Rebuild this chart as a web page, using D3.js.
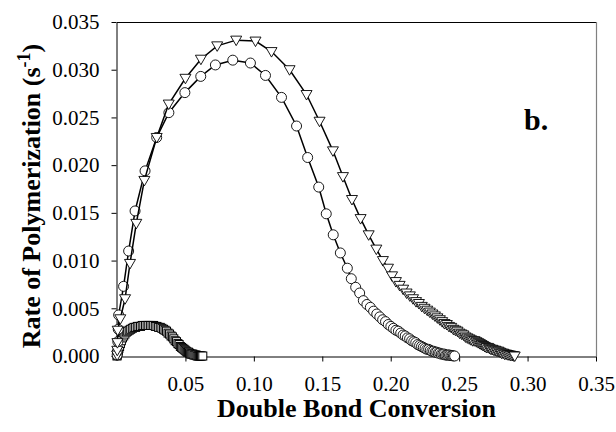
<!DOCTYPE html>
<html>
<head>
<meta charset="utf-8">
<script src="https://cdn.jsdelivr.net/npm/d3@7"></script>
</head>
<body style="margin:0">
<svg id="fig" width="616" height="432" font-family="'Liberation Serif', 'Tinos', 'FreeSerif', serif"></svg>
<script>
// circles series (x = conversion, y = rate)
const circleX = [0.0001, 0.0003, 0.0006, 0.0009, 0.0012, 0.0048, 0.0085, 0.0132, 0.0205, 0.0290,
  0.0379, 0.0496, 0.0612, 0.0719, 0.0846, 0.0975, 0.1085, 0.1202, 0.1312, 0.1393,
  0.1474, 0.1529, 0.1580, 0.1632, 0.1683, 0.1712, 0.1744, 0.1773,
  0.1800, 0.1826, 0.1851, 0.1875, 0.1898, 0.1920, 0.1941, 0.1962, 0.1982, 0.2001,
  0.2020, 0.2038, 0.2056, 0.2073, 0.2090, 0.2106, 0.2122, 0.2138, 0.2153, 0.2168,
  0.2183, 0.2197, 0.2211, 0.2225, 0.2238, 0.2251, 0.2264, 0.2277, 0.2289, 0.2301,
  0.2313, 0.2325, 0.2336, 0.2347, 0.2358, 0.2369, 0.2380, 0.2390, 0.2400, 0.2410,
  0.2420, 0.2430, 0.2440, 0.2449, 0.2458, 0.2467];
const circleY = [0.0001, 0.0005, 0.0015, 0.0028, 0.0043, 0.0073, 0.0110, 0.0152, 0.0194, 0.0229,
  0.0255, 0.0276, 0.0293, 0.0305, 0.0310, 0.0307, 0.0294, 0.0271, 0.0241, 0.0208,
  0.0177, 0.0149, 0.0127, 0.0108, 0.0092, 0.0081, 0.0072, 0.0066,
  0.0058, 0.0054, 0.0051, 0.0047, 0.0044, 0.0041, 0.0038, 0.0036, 0.0033, 0.0031,
  0.0029, 0.0027, 0.0026, 0.0024, 0.0022, 0.0021, 0.0019, 0.0018, 0.0016, 0.0015,
  0.0014, 0.0012, 0.0011, 0.0010, 0.0009, 0.0008, 0.0007, 0.0007, 0.0006, 0.0005,
  0.0005, 0.0004, 0.0004, 0.0003, 0.0003, 0.0002, 0.0002, 0.0002, 0.0001, 0.0001,
  0.0001, 0.0001, 0.00005, 0.00003, 0.00001, 0.0];

// triangles series
const triX = [0.0001, 0.0002, 0.0003, 0.0005, 0.0024, 0.0059, 0.0095, 0.0141, 0.0200, 0.0290,
  0.0378, 0.0500, 0.0613, 0.0732, 0.0871, 0.1012, 0.1129, 0.1261, 0.1385, 0.1480,
  0.1578, 0.1651, 0.1717, 0.1780, 0.1839, 0.1895, 0.1943, 0.1980,
  0.2010, 0.2038, 0.2065, 0.2091, 0.2116, 0.2140, 0.2163, 0.2185, 0.2206, 0.2227,
  0.2247, 0.2267, 0.2286, 0.2305, 0.2323, 0.2341, 0.2359, 0.2376, 0.2393, 0.2410,
  0.2426, 0.2442, 0.2458, 0.2473, 0.2488, 0.2503, 0.2518, 0.2532, 0.2546, 0.2560,
  0.2574, 0.2587, 0.2600, 0.2613, 0.2626, 0.2639, 0.2651, 0.2663, 0.2675, 0.2687,
  0.2699, 0.2711, 0.2722, 0.2733, 0.2744, 0.2755, 0.2766, 0.2777, 0.2788, 0.2799,
  0.2810, 0.2821, 0.2832, 0.2843, 0.2854, 0.2865, 0.2876, 0.2887, 0.2898, 0.2906];
const triY = [0.0001, 0.0006, 0.0014, 0.0027, 0.0039, 0.0060, 0.0097, 0.0139, 0.0184, 0.0229,
  0.0264, 0.0291, 0.0311, 0.0325, 0.0331, 0.0330, 0.0319, 0.0300, 0.0274, 0.0246,
  0.0215, 0.0188, 0.0164, 0.0144, 0.0127, 0.0112, 0.0100, 0.0092,
  0.0084, 0.0078, 0.0074, 0.0070, 0.0066, 0.0063, 0.0060, 0.0057, 0.0055, 0.0052,
  0.0050, 0.0048, 0.0046, 0.0044, 0.0042, 0.0040, 0.0038, 0.0036, 0.0034, 0.0033,
  0.0031, 0.0030, 0.0028, 0.0027, 0.0026, 0.0024, 0.0023, 0.0022, 0.0020, 0.0019,
  0.0018, 0.0017, 0.0016, 0.0016, 0.0015, 0.0014, 0.0013, 0.0012, 0.0011, 0.0010,
  0.0009, 0.0009, 0.0008, 0.0007, 0.0007, 0.0006, 0.0006, 0.0005, 0.0005, 0.0004,
  0.0003, 0.0003, 0.0002, 0.0002, 0.00014, 0.00011, 0.00008, 0.00005, 0.00002, 0.0];

// squares series
const sqX = [0.0000, 0.0002, 0.0004, 0.0007, 0.0010, 0.0014, 0.0019, 0.0025, 0.0032, 0.0040,
  0.0049, 0.0058, 0.0068, 0.0078, 0.0089, 0.0100, 0.0112, 0.0124, 0.0136, 0.0148,
  0.0160, 0.0172, 0.0184, 0.0196, 0.0208, 0.0220, 0.0232, 0.0244, 0.0256, 0.0268,
  0.0280, 0.0292, 0.0304, 0.0316, 0.0328, 0.0340, 0.0351, 0.0362, 0.0373, 0.0384,
  0.0395, 0.0405, 0.0415, 0.0425, 0.0435, 0.0445, 0.0454, 0.0463, 0.0472, 0.0481,
  0.0490, 0.0498, 0.0506, 0.0514, 0.0522, 0.0530, 0.0538, 0.0546, 0.0554, 0.0562,
  0.0570, 0.0578, 0.0586, 0.0594, 0.0602, 0.0610, 0.0618, 0.0627];
const sqY = [0.0, 0.0001, 0.0003, 0.0004, 0.0006, 0.0008, 0.0010, 0.0013, 0.0016, 0.0019,
  0.0021, 0.0023, 0.0025, 0.0026, 0.0027, 0.0028, 0.0029, 0.0030, 0.0030, 0.0031,
  0.0031, 0.0031, 0.0032, 0.0032, 0.0032, 0.0032, 0.0032, 0.0032, 0.0032, 0.0032,
  0.0031, 0.0031, 0.0030, 0.0030, 0.0029, 0.0028, 0.0027, 0.0026, 0.0024, 0.0023,
  0.0021, 0.0020, 0.0018, 0.0016, 0.0015, 0.0013, 0.0012, 0.0010, 0.0009, 0.0008,
  0.0007, 0.0006, 0.0005, 0.0004, 0.0004, 0.0003, 0.0002, 0.0002, 0.0002, 0.0001,
  0.0001, 0.0001, 0.0, 0.0, 0.0, 0.0, 0.0, 0.0];

const xTicks = [0.05, 0.10, 0.15, 0.20, 0.25, 0.30, 0.35];
const yTicks = [0.000, 0.005, 0.010, 0.015, 0.020, 0.025, 0.030, 0.035];

const plot = { left: 117, right: 596, top: 22, bottom: 356 };
const serif = "'Liberation Serif', 'Tinos', 'FreeSerif', serif";

const svg = d3.select("#fig");

const x = d3.scaleLinear().domain([0, 0.35]).range([plot.left, plot.right]);
const y = d3.scaleLinear().domain([0, 0.035]).range([plot.bottom, plot.top]);

// frame: top black, right grey
svg.append("line")
  .attr("x1", plot.left).attr("x2", plot.right)
  .attr("y1", plot.top + 0.5).attr("y2", plot.top + 0.5)
  .attr("stroke", "#000").attr("stroke-width", 1);
svg.append("line")
  .attr("x1", plot.right + 0.5).attr("x2", plot.right + 0.5)
  .attr("y1", plot.top).attr("y2", plot.bottom)
  .attr("stroke", "#808080").attr("stroke-width", 1.2);

const xAxis = svg.append("g")
  .attr("transform", `translate(0,${plot.bottom + 0.5})`)
  .call(d3.axisBottom(x).tickValues(xTicks).tickFormat(d3.format(".2f"))
    .tickSize(5).tickSizeOuter(0).tickPadding(15));

const yAxis = svg.append("g")
  .attr("transform", `translate(${plot.left - 0.5},0)`)
  .call(d3.axisLeft(y).tickValues(yTicks).tickFormat(d3.format(".3f"))
    .tickSize(5).tickSizeOuter(0).tickPadding(12));

[xAxis, yAxis].forEach(g => {
  g.attr("font-family", serif).attr("font-size", 21);
  g.selectAll("text").attr("fill", "#000").attr("font-family", serif);
  g.selectAll("line").attr("stroke", "#000");
  g.select(".domain").attr("stroke", "#000");
});

function series(xs, ys) {
  return xs.map((v, i) => ({ x: v, y: ys[i] }));
}

const line = d3.line().x(d => x(d.x)).y(d => y(d.y));

const circles = series(circleX, circleY);
const tris = series(triX, triY);
const squares = series(sqX, sqY);

// squares
svg.append("path").datum(squares)
  .attr("fill", "none").attr("stroke", "#000").attr("stroke-width", 1.5).attr("d", line);
svg.append("g").selectAll("rect").data(squares).enter().append("rect")
  .attr("x", d => x(d.x) - 4).attr("y", d => y(d.y) - 4)
  .attr("width", 8).attr("height", 8)
  .attr("fill", "#fff").attr("stroke", "#000").attr("stroke-width", 1);

// circles
svg.append("path").datum(circles)
  .attr("fill", "none").attr("stroke", "#000").attr("stroke-width", 1.5).attr("d", line);
svg.append("g").selectAll("circle").data(circles).enter().append("circle")
  .attr("cx", d => x(d.x)).attr("cy", d => y(d.y)).attr("r", 5)
  .attr("fill", "#fff").attr("stroke", "#000").attr("stroke-width", 0.9);

// triangles (pointing down)
const triPath = "M-5.5,-4 L5.5,-4 L0,5.5 Z";
svg.append("path").datum(tris)
  .attr("fill", "none").attr("stroke", "#000").attr("stroke-width", 1.5).attr("d", line);
svg.append("g").selectAll("path").data(tris).enter().append("path")
  .attr("d", triPath)
  .attr("transform", d => `translate(${x(d.x)},${y(d.y)})`)
  .attr("fill", "#fff").attr("stroke", "#000").attr("stroke-width", 0.9);

// axis titles
svg.append("text")
  .attr("x", (plot.left + plot.right) / 2).attr("y", 417)
  .attr("text-anchor", "middle").attr("font-family", serif)
  .attr("font-size", 26).attr("font-weight", "bold")
  .text("Double Bond Conversion");

const yt = svg.append("text")
  .attr("transform", "translate(40,196) rotate(-90)")
  .attr("text-anchor", "middle").attr("font-family", serif)
  .attr("font-size", 26).attr("font-weight", "bold");
yt.append("tspan").text("Rate of Polymerization (s");
yt.append("tspan").attr("font-size", 18).attr("dy", -10).text("-1");
yt.append("tspan").attr("dy", 10).text(")");

svg.append("text")
  .attr("x", 524).attr("y", 130)
  .attr("font-family", serif).attr("font-size", 30).attr("font-weight", "bold")
  .text("b.");
</script>
</body>
</html>
